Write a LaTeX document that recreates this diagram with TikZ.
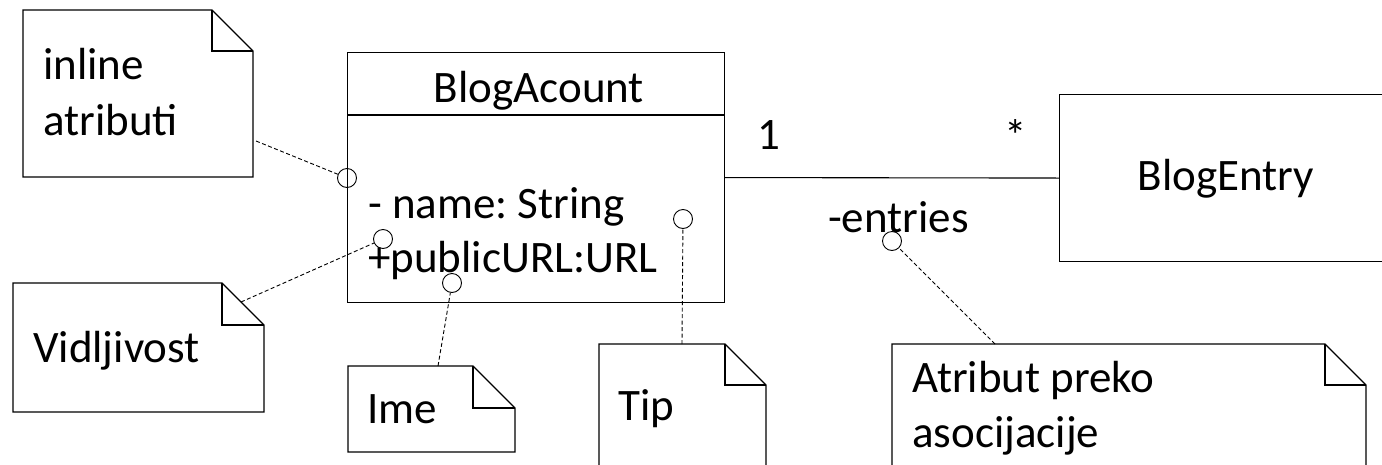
\documentclass[tikz,border=0pt]{standalone}
\usepackage{fontspec}
\setmainfont{Carlito}
\frenchspacing
\tikzset{
  umlbox/.style={draw, line width=1.1pt, inner sep=0pt, anchor=north west},
  notebox/.style={draw, line width=1.1pt, line join=miter},
  anchordot/.style={circle, draw, line width=0.9pt, minimum size=19pt, inner sep=0pt},
  notelink/.style={line width=0.9pt, dash pattern=on 4pt off 2.5pt},
  txt/.style={inner sep=0pt, anchor=base west, font=\fontsize{45}{54}\selectfont},
  ctxt/.style={txt, anchor=base},
}
% UML note: left, top, right, bottom, fold size
\newcommand\umlnote[5]{%
  \draw[notebox] (#1,#2) -- (#3-#5,#2) -- (#3,#2+#5) -- (#3,#4) -- (#1,#4) -- cycle;
  \draw[notebox] (#3-#5,#2) -- (#3-#5,#2+#5) -- (#3,#2+#5);
}
\begin{document}
\begin{tikzpicture}[x=1pt,y=-1pt]
\useasboundingbox (0,0) rectangle (1382,464);

% classes
\node[umlbox, minimum width=377pt, minimum height=250pt] (acct) at (347,52) {};
\draw[line width=1.1pt] (347,115) -- (724,115);
\node[ctxt] (acctname) at (539,102) {BlogAcount};
\node[txt] (attr1) at (368,218) {- name: String};
\node[txt] (attr2) at (368,272) {+publicURL:URL};

\node[umlbox, minimum width=340pt, minimum height=167pt] (entry) at (1059,94) {};
\node[ctxt] (entryname) at (1226,190) {BlogEntry};

% association
\draw[line width=1.1pt] (acct.east) -- (entry.west);
\node[txt] (mult1) at (757,149) {1};
\node[txt] (mult2) at (1004,151) {*};
\node[txt] (role) at (828,232) {-entries};

% notes
\umlnote{23}{10}{253}{177}{41}
\node[txt] (n1a) at (43,79) {inline};
\node[txt] (n1b) at (43,135) {atributi};
\coordinate (n1) at (256,141);

\umlnote{13}{283}{264}{412}{42}
\node[txt] (n2) at (33,362) {Vidljivost};
\coordinate (n2c) at (241,302);

\umlnote{348}{366}{515}{452}{42}
\node[txt] (n3) at (367,423) {Ime};
\coordinate (n3c) at (438,366);

\umlnote{599}{344}{766}{480}{41}
\node[txt] (n4) at (618,420) {Tip};
\coordinate (n4c) at (682,344);

\umlnote{892}{344}{1366}{480}{41}
\node[txt] (n5a) at (912,392) {Atribut preko};
\node[txt] (n5b) at (912,447) {asocijacije};
\coordinate (n5c) at (995,344);

% anchor circles
\node[anchordot] (c1) at (347,178) {};
\node[anchordot] (c2) at (383,239) {};
\node[anchordot] (c3) at (452,283) {};
\node[anchordot] (c4) at (683,219) {};
\node[anchordot] (c5) at (892,241) {};

% note links
\draw[notelink] (n1) -- (c1);
\draw[notelink] (n2c) -- (c2);
\draw[notelink] (n3c) -- (c3);
\draw[notelink] (n4c) -- (c4);
\draw[notelink] (n5c) -- (c5);
\end{tikzpicture}
\end{document}
